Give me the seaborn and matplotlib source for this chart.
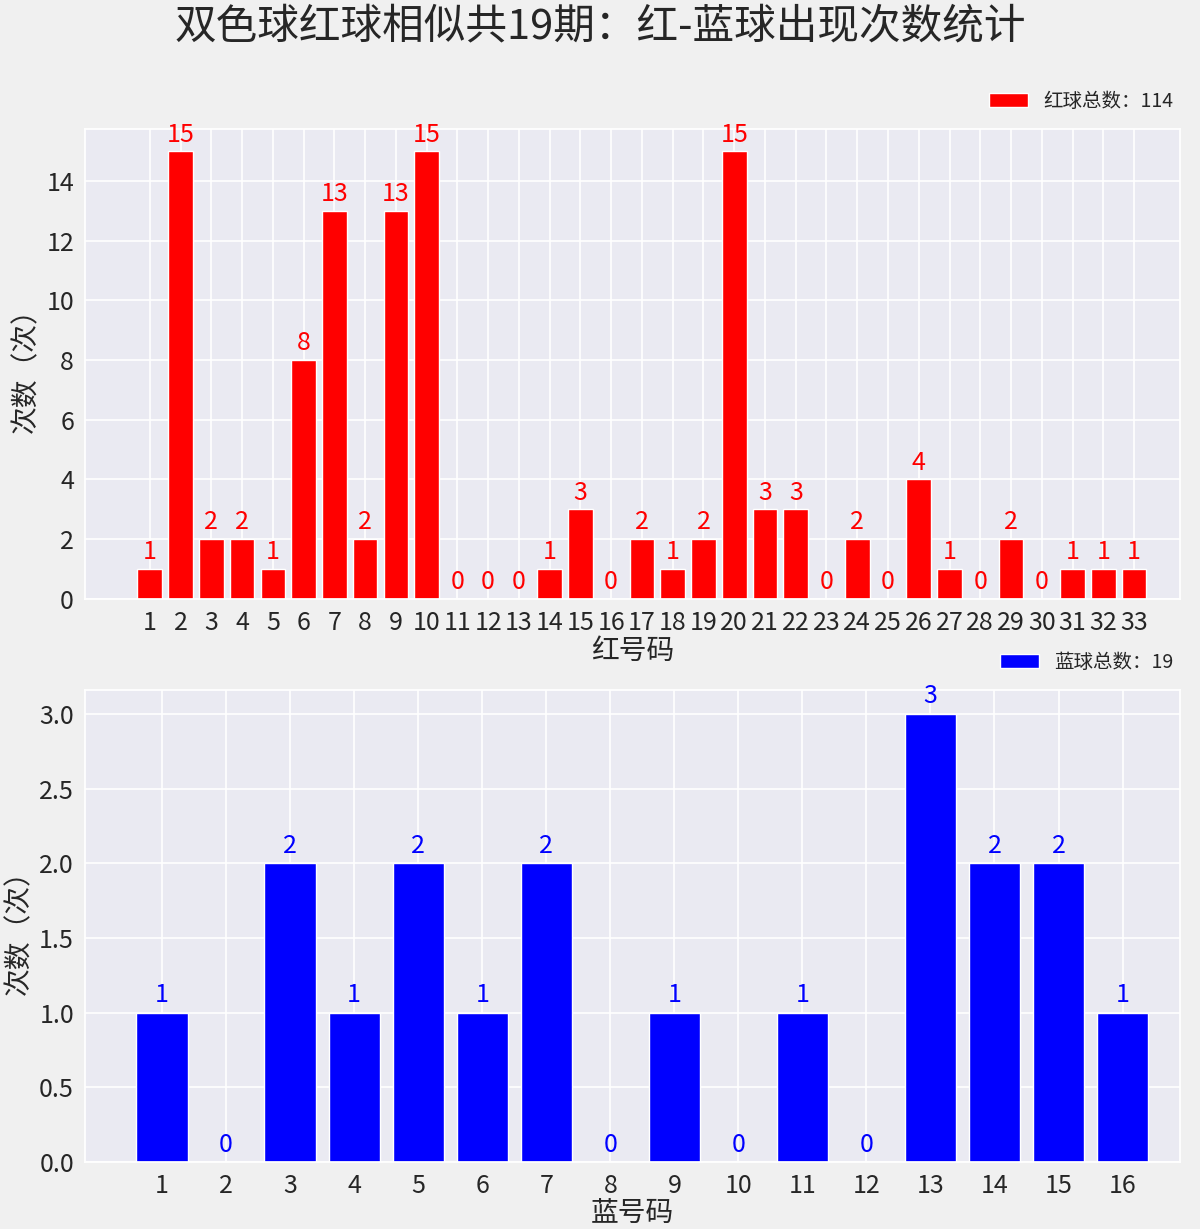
import matplotlib.pyplot as plt
import seaborn as sns
import numpy as np

red_balls = list(range(1, 34))
red_counts = [1, 15, 2, 2, 1, 8, 13, 2, 13, 15, 0, 0, 0, 1, 3, 0, 2, 1, 2, 15,
              3, 3, 0, 2, 0, 4, 1, 0, 2, 0, 1, 1, 1]
blue_balls = list(range(1, 17))
blue_counts = [1, 0, 2, 1, 2, 1, 2, 0, 1, 0, 1, 0, 3, 2, 2, 1]

sns.set_theme(style="darkgrid", rc={"axes.facecolor": "#eaeaf2", "figure.facecolor": "#f0f0f0",
                                    "grid.color": "white", "grid.linewidth": 1.2})
plt.rcParams["font.family"] = "Noto Sans CJK SC"
plt.rcParams["axes.unicode_minus"] = False

fig = plt.figure(figsize=(12, 12.29), dpi=100)
ax1 = fig.add_axes([0.071, 0.513, 0.9125, 0.382])
ax2 = fig.add_axes([0.071, 0.0545, 0.9125, 0.384])

sns.barplot(x=red_balls, y=red_counts, native_scale=True, color="red", width=0.8,
            saturation=1, ax=ax1, label=f"红球总数：{sum(red_counts)}")
ax1.set_xlim(-1.1, 34.5)
ax1.set_ylim(0, 15.75)
ax1.set_xticks(red_balls)
ax1.set_xticklabels([str(b) for b in red_balls])
ax1.set_yticks(range(0, 16, 2))
for b, c in zip(red_balls, red_counts):
    ax1.text(b, c + 0.12, str(c), ha="center", va="bottom", color="red", fontsize=18)
ax1.set_xlabel("红号码", fontsize=20, labelpad=0)
ax1.set_ylabel("次数（次）", fontsize=20)
ax1.tick_params(labelsize=18, pad=2)
ax1.legend(loc="lower right", bbox_to_anchor=(1.01, 1.0), frameon=False, fontsize=14)

sns.barplot(x=blue_balls, y=blue_counts, native_scale=True, color="blue", width=0.8,
            saturation=1, ax=ax2, label=f"蓝球总数：{sum(blue_counts)}")
ax2.set_xlim(-0.2, 16.9)
ax2.set_ylim(0, 3.16)
ax2.set_xticks(blue_balls)
ax2.set_xticklabels([str(b) for b in blue_balls])
ax2.set_yticks(np.arange(0, 3.01, 0.5))
ax2.set_yticklabels([f"{v:.1f}" for v in np.arange(0, 3.01, 0.5)])
for b, c in zip(blue_balls, blue_counts):
    ax2.text(b, c + 0.03, str(c), ha="center", va="bottom", color="blue", fontsize=18)
ax2.set_xlabel("蓝号码", fontsize=20, labelpad=0)
ax2.set_ylabel("次数（次）", fontsize=20)
ax2.tick_params(labelsize=18, pad=2)
ax2.legend(loc="lower right", bbox_to_anchor=(1.01, 1.0), frameon=False, fontsize=14)

fig.suptitle("双色球红球相似共19期：红-蓝球出现次数统计", fontsize=30, y=0.995)
fig.savefig("out.png", dpi=100)
